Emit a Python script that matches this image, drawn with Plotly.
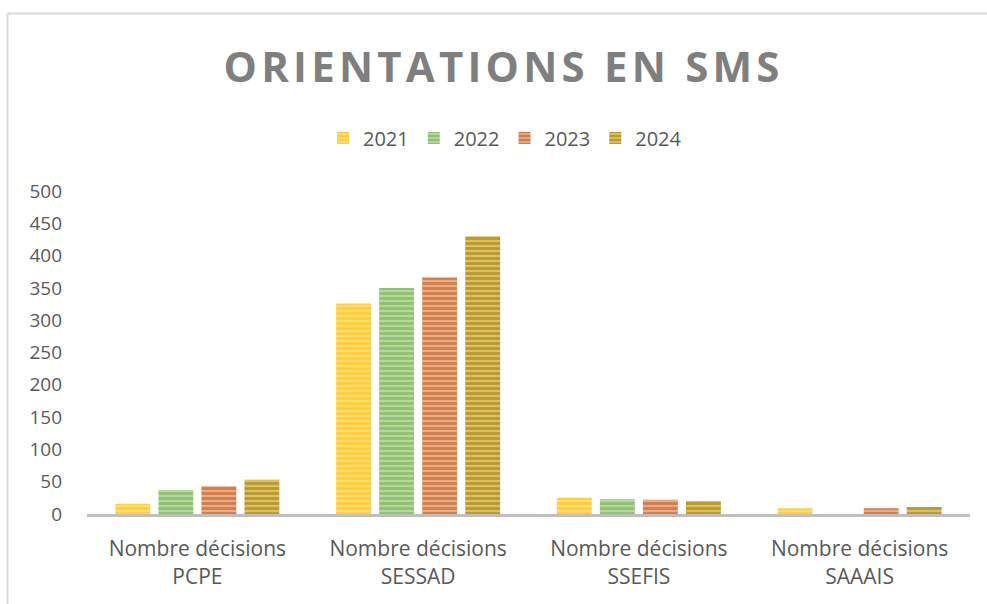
import plotly.graph_objects as go

categories = ["Nombre décisions<br>PCPE", "Nombre décisions<br>SESSAD",
              "Nombre décisions<br>SSEFIS", "Nombre décisions<br>SAAAIS"]
years = ["2021", "2022", "2023", "2024"]
v2021 = [16, 326, 25, 9]
v2022 = [37, 350, 23, 0]
v2023 = [43, 366, 22, 9]
v2024 = [53, 430, 20, 11]
series = [v2021, v2022, v2023, v2024]
y_ticks = [0, 50, 100, 150, 200, 250, 300, 350, 400, 450, 500]
title_text = "ORIENTATIONS EN SMS"

fg = ["#FFC000", "#6AA843", "#B0521A", "#957000"]
bg = ["#FFDC70", "#B4D89C", "#EBAA80", "#DCC060"]

W, H = 987, 604
L, R, T, B = 87, 17, 191, 90
pw, ph = W - L - R, H - T - B

font = "Open Sans, sans-serif"

fig = go.Figure()
for i, (yr, vals) in enumerate(zip(years, series)):
    fig.add_trace(go.Bar(
        name=yr, x=categories, y=vals,
        marker=dict(color=bg[i], line=dict(width=0),
                    pattern=dict(shape="-", size=5, solidity=0.55,
                                 fgcolor=fg[i], bgcolor=bg[i], fillmode="overlay")),
    ))

def px_x(px):
    return (px - L) / pw

def px_y(py):
    return (H - B - py) / ph

spaced_title = "\u200a".join(title_text)

fig.update_layout(
    width=W, height=H,
    margin=dict(l=L, r=R, t=T, b=B),
    paper_bgcolor="white", plot_bgcolor="white",
    barmode="group", bargap=0.22, bargroupgap=0.19,
    title=dict(text="<b>" + spaced_title + "</b>",
               x=501.5 / W, xanchor="center", y=1 - 67 / H, yanchor="middle",
               font=dict(family=font, size=42, color="#7F7F7F")),
    legend=dict(orientation="h", x=px_x(505), xanchor="center", y=px_y(138), yanchor="middle",
                font=dict(family=font, size=20, color="#595959"),
                itemwidth=30, traceorder="normal"),
    xaxis=dict(showline=True, linecolor="#BFBFBF", linewidth=3, ticks="",
               ticklabelstandoff=14,
               tickfont=dict(family=font, size=21, color="#595959"), showgrid=False),
    yaxis=dict(range=[0, 500], tickvals=y_ticks, showgrid=False, zeroline=False,
               showline=False, ticks="", ticklabelstandoff=24,
               tickfont=dict(family=font, size=19, color="#595959")),
    showlegend=True,
)

# chart frame (top and left edges)
fig.add_shape(type="line", xref="paper", yref="paper",
              x0=px_x(7.5), x1=px_x(990), y0=px_y(13.5), y1=px_y(13.5),
              line=dict(color="#D9D9D9", width=2))
fig.add_shape(type="line", xref="paper", yref="paper",
              x0=px_x(7.5), x1=px_x(7.5), y0=px_y(13.5), y1=px_y(610),
              line=dict(color="#D9D9D9", width=2))

fig.write_html("out.html", config={"displayModeBar": False},
               post_script="document.body.style.margin='0';document.body.style.overflow='hidden';")
